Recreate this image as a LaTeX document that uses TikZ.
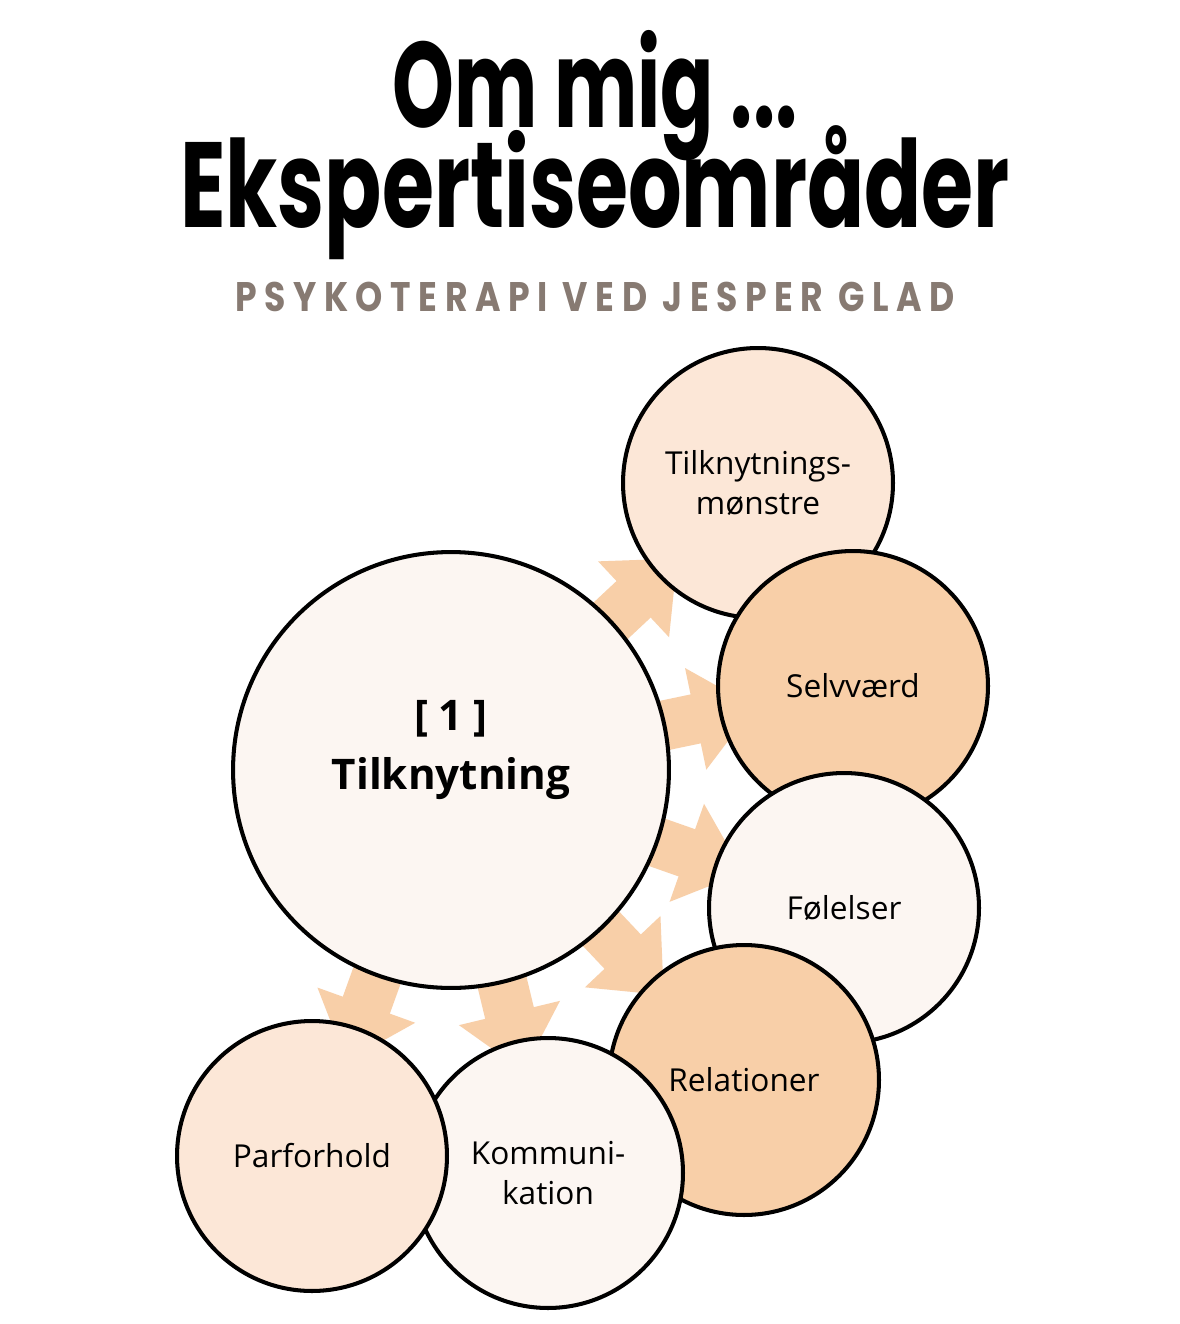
\documentclass[tikz,border=0pt]{standalone}
\usepackage{graphicx}
\usepackage{fontspec}
\setmainfont{Open Sans}
\newfontfamily\titlefont{Poppins}
\newfontfamily\subfont{Poppins}[LetterSpace=22]
\usetikzlibrary{arrows.meta,calc,backgrounds}
\definecolor{peach}{HTML}{F8CFA8}
\definecolor{cream}{HTML}{FCF6F2}
\definecolor{blush}{HTML}{FCE7D7}
\definecolor{taupe}{HTML}{877A72}

\begin{document}
\begin{tikzpicture}[x=0.02cm,y=-0.02cm,
	bubble/.style={shape=circle,draw=black,line width=2.3pt,minimum size=5.4cm,inner sep=0pt,align=center,font=\fontsize{18}{23}\selectfont},
	bigbubble/.style={bubble,minimum size=8.72cm},
	flow/.style={draw=peach,line width=1cm,-{Triangle[width=2cm,length=1.2cm]}}]
	\useasboundingbox (0,0) rectangle (1179,1324);

	% headings
	\node [anchor=base,align=center,inner sep=0pt,font=\titlefont\fontsize{69}{80}\selectfont\bfseries] (T) at (595,228)
		{\resizebox{8.1cm}{\height}{Om mig ...}\\[-0.81cm]\resizebox{16.6cm}{\height}{Ekspertiseområder}};
	\node [anchor=base,text=taupe] (ST) at (595,312) {\resizebox{14.4cm}{\height}{\subfont\fontsize{23.5}{28}\selectfont\bfseries PSYKOTERAPI VED JESPER GLAD}};

	% bubbles
	\node [bigbubble,fill=cream] (M) at (451,770) {};
	\node [font=\fontsize{24}{34}\selectfont\bfseries,align=center] (ML) at (451,750) {[ 1 ]\\Tilknytning};
	\node [bubble,fill=blush] (TM) at (758,483) {Tilknytnings-\\mønstre};
	\node [bubble,fill=peach] (SV) at (853,686) {Selvværd};
	\node [bubble,fill=cream] (FO) at (844,908) {Følelser};
	\node [bubble,fill=peach] (RE) at (744,1080) {Relationer};
	\node [bubble,fill=cream] (KO) at (548,1173) {Kommuni-\\kation};
	\node [bubble,fill=blush] (PF) at (312,1156) {Parforhold};

	\begin{scope}[on background layer]
		\fill [white] (0,0) rectangle (1179,1324);
		\foreach \t in {TM,SV,FO,RE,KO,PF}
			\draw [flow] ($(M)!4cm!(\t)$) -- ($(M)!6.2cm!(\t)$);
	\end{scope}
\end{tikzpicture}
\end{document}
